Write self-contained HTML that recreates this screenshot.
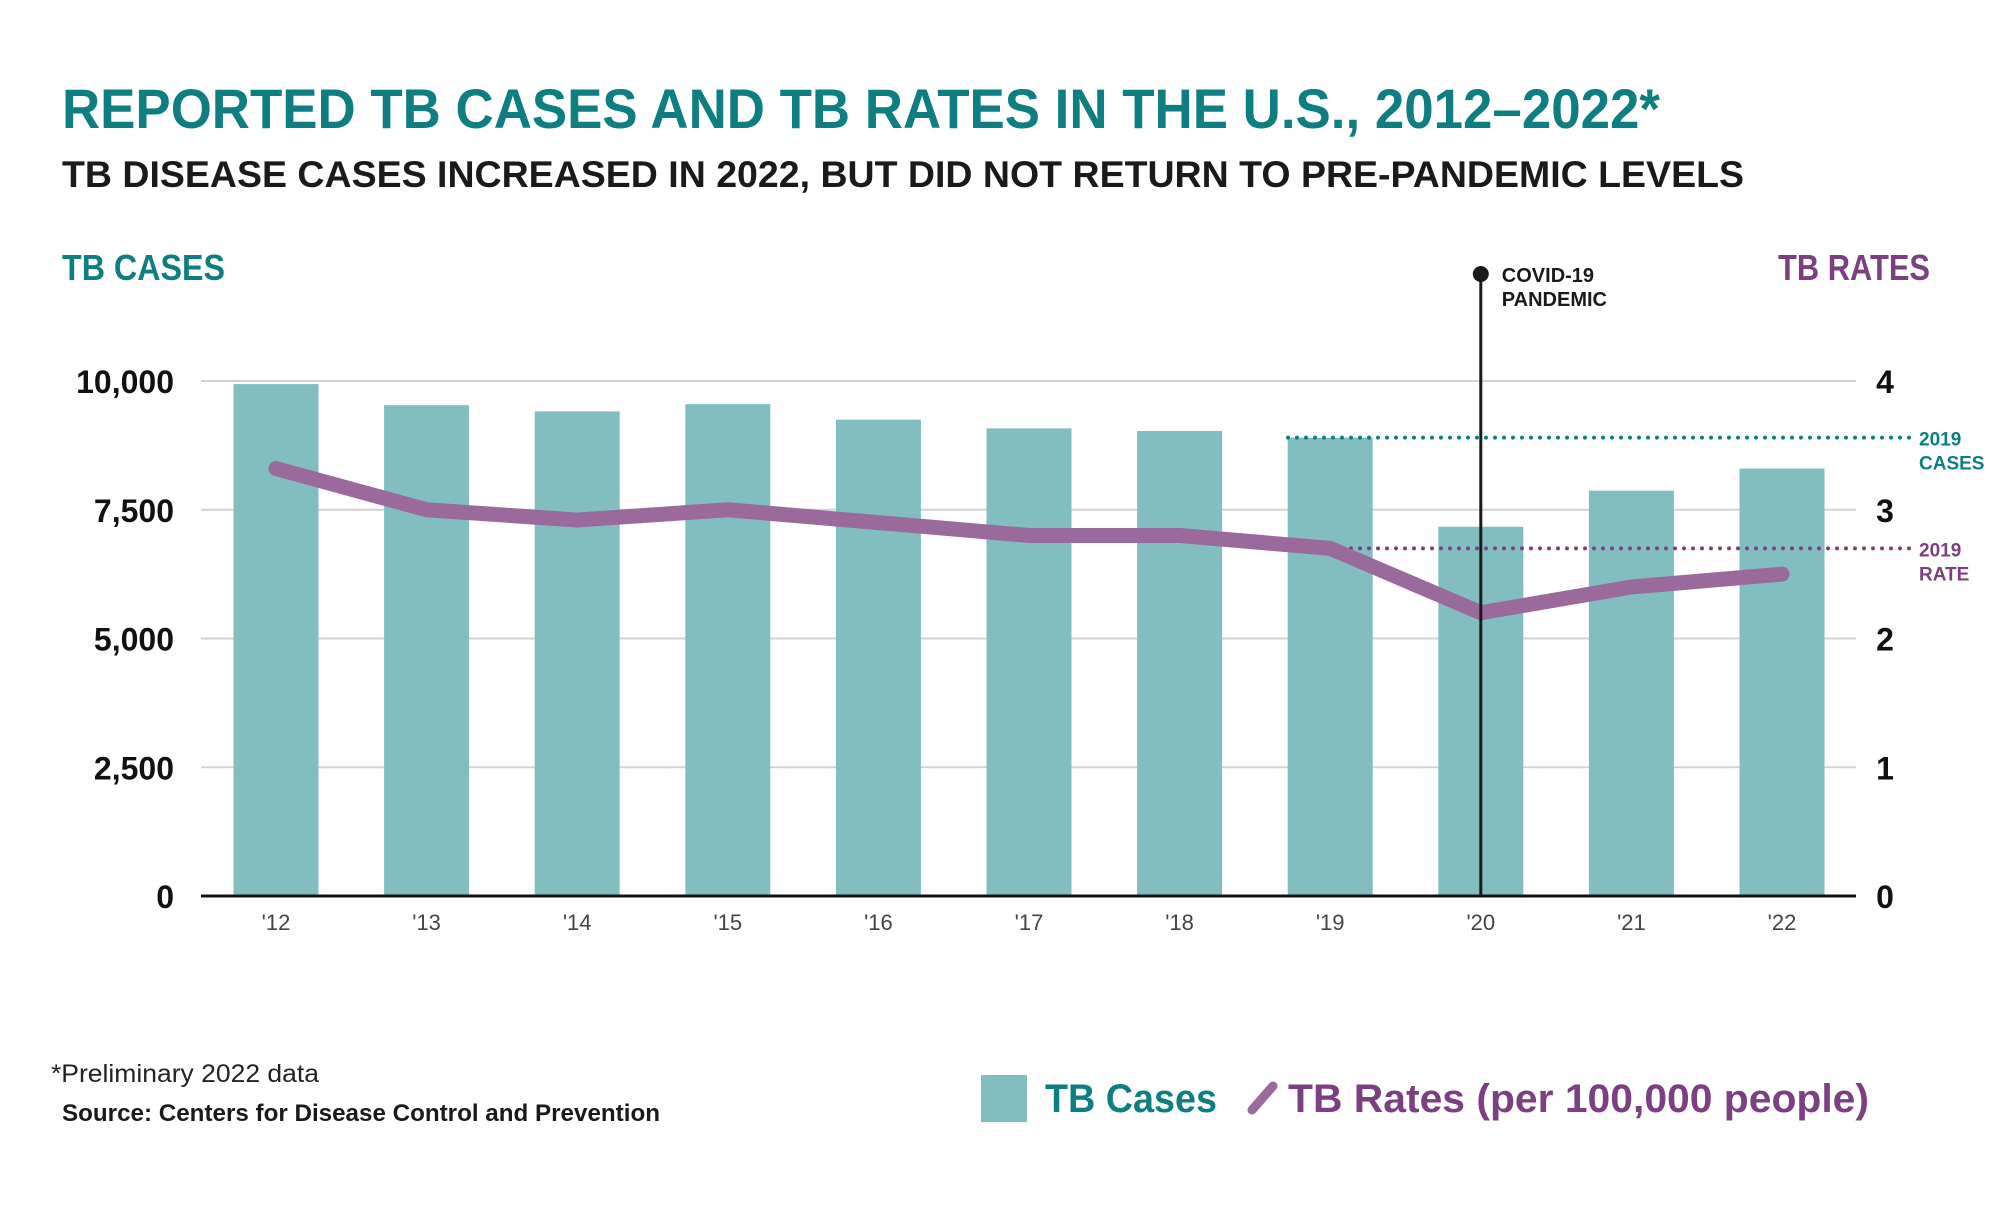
<!DOCTYPE html>
<html><head><meta charset="utf-8"><style>
html,body{margin:0;padding:0;background:#fff;}
svg{display:block;font-family:"Liberation Sans",sans-serif;}
</style></head><body>
<svg id="chart" width="2000" height="1214" viewBox="0 0 2000 1214">
<text x="62" y="128" font-size="56" font-weight="bold" fill="#0e7e80" textLength="1598" lengthAdjust="spacingAndGlyphs">REPORTED TB CASES AND TB RATES IN THE U.S., 2012–2022*</text>
<text x="62" y="187" font-size="37" font-weight="bold" fill="#1a1a1a" textLength="1682" lengthAdjust="spacingAndGlyphs">TB DISEASE CASES INCREASED IN 2022, BUT DID NOT RETURN TO PRE-PANDEMIC LEVELS</text>
<text x="62" y="280" font-size="36" font-weight="bold" fill="#0e7e80" textLength="163" lengthAdjust="spacingAndGlyphs">TB CASES</text>
<text x="1778" y="280" font-size="36" font-weight="bold" fill="#7b3f82" textLength="152" lengthAdjust="spacingAndGlyphs">TB RATES</text>
<g id="grid"></g><g id="bars"></g><g id="ref"></g><g id="line"></g><g id="axes"></g>
<text x="51" y="1082" font-size="25" fill="#222" textLength="268" lengthAdjust="spacingAndGlyphs">*Preliminary 2022 data</text>
<text x="62" y="1121" font-size="24" font-weight="bold" fill="#1a1a1a" textLength="598" lengthAdjust="spacingAndGlyphs">Source: Centers for Disease Control and Prevention</text>
<g>
<rect x="981" y="1075" width="46" height="47" fill="#82bec0"/>
<text x="1045" y="1112" font-size="40" font-weight="bold" fill="#0e7e80" textLength="172" lengthAdjust="spacingAndGlyphs">TB Cases</text>
<line x1="1252" y1="1110" x2="1273" y2="1086" stroke="#9b6a9c" stroke-width="9" stroke-linecap="round"/>
<text x="1288" y="1112" font-size="40" font-weight="bold" fill="#7b3f82" textLength="581" lengthAdjust="spacingAndGlyphs">TB Rates (per 100,000 people)</text>
</g>
</svg>
<script>
const years = ["'12","'13","'14","'15","'16","'17","'18","'19","'20","'21","'22"];
const cases = [9940,9530,9410,9550,9250,9080,9030,8900,7170,7870,8300];
const rates = [3.32,3.0,2.92,3.0,2.9,2.8,2.8,2.7,2.2,2.4,2.5];
const caseTicks = [0,2500,5000,7500,10000];
const caseTickLabels = ["0","2,500","5,000","7,500","10,000"];
const rateTicks = [0,1,2,3,4];
const ref2019Cases = 8900;
const ref2019Rate = 2.7;
const NS="http://www.w3.org/2000/svg";
const X0=201,X1=1856,Y0=896,Y1=381;
const yC=v=>Y0-(v/10000)*(Y0-Y1);
const yR=v=>Y0-(v/4)*(Y0-Y1);
const xB=i=>276+i*150.6;
function mk(t,a,p){const e=document.createElementNS(NS,t);for(const k in a)e.setAttribute(k,a[k]);document.getElementById(p).appendChild(e);return e;}
caseTicks.forEach((t,i)=>{
 if(t>0){const l=mk('line',{x1:X0,x2:X1,y1:yC(t),y2:yC(t),stroke:'#d3d3d3','stroke-width':2},'grid');
 
 }
 const tx=mk('text',{x:174,y:yC(t)+12,'font-size':32,'font-weight':'bold','text-anchor':'end',fill:'#111'},'axes');
 tx.textContent=caseTickLabels[i];
 
 
});
rateTicks.forEach(t=>{
 const tx=mk('text',{x:1885,y:yR(t)+12,'font-size':32,'font-weight':'bold','text-anchor':'middle',fill:'#111'},'axes');
 tx.textContent=t;
 
 
});
cases.forEach((v,i)=>{
 const r=mk('rect',{x:xB(i)-42.5,y:yC(v),width:85,height:Y0-yC(v),fill:'#82bec0'},'bars');
 
 
 const tx=mk('text',{x:xB(i),y:930,'font-size':22,'text-anchor':'middle',fill:'#444'},'axes');
 tx.textContent=years[i];
 
 
});
const ax=mk('line',{x1:X0,x2:X1,y1:Y0,y2:Y0,stroke:'#111','stroke-width':3},'axes');


const l1=mk('line',{x1:1288,x2:1910,y1:yC(ref2019Cases),y2:yC(ref2019Cases),stroke:'#0e7e80','stroke-width':4,'stroke-dasharray':'0 9','stroke-linecap':'round'},'ref');


const l2=mk('line',{x1:1288,x2:1910,y1:yR(ref2019Rate),y2:yR(ref2019Rate),stroke:'#7b3f82','stroke-width':4,'stroke-dasharray':'0 9','stroke-linecap':'round'},'ref');


[["2019",yC(ref2019Cases)+8,'#0e7e80'],["CASES",yC(ref2019Cases)+32,'#0e7e80'],["2019",yR(ref2019Rate)+8,'#7b3f82'],["RATE",yR(ref2019Rate)+32,'#7b3f82']].forEach(a=>{
 const tx=mk('text',{x:1919,y:a[1],'font-size':19,'font-weight':'bold',fill:a[2]},'ref');
 tx.textContent=a[0];
 
 
});
const pl=mk('polyline',{points:rates.map((v,i)=>xB(i)+','+yR(v)).join(' '),fill:'none',stroke:'#9b6a9c','stroke-width':15,'stroke-linecap':'round','stroke-linejoin':'round'},'line');


const cx=xB(8);
const cl=mk('line',{x1:cx,x2:cx,y1:274,y2:Y0,stroke:'#1a1a1a','stroke-width':3},'line');


const cd=mk('circle',{cx:cx,cy:274,r:8,fill:'#1a1a1a'},'line');


[["COVID-19",282],["PANDEMIC",306]].forEach(a=>{
 const tx=mk('text',{x:cx+21,y:a[1],'font-size':20,'font-weight':'bold',fill:'#1a1a1a'},'line');
 tx.textContent=a[0];
 
 
});
</script>
</body></html>
